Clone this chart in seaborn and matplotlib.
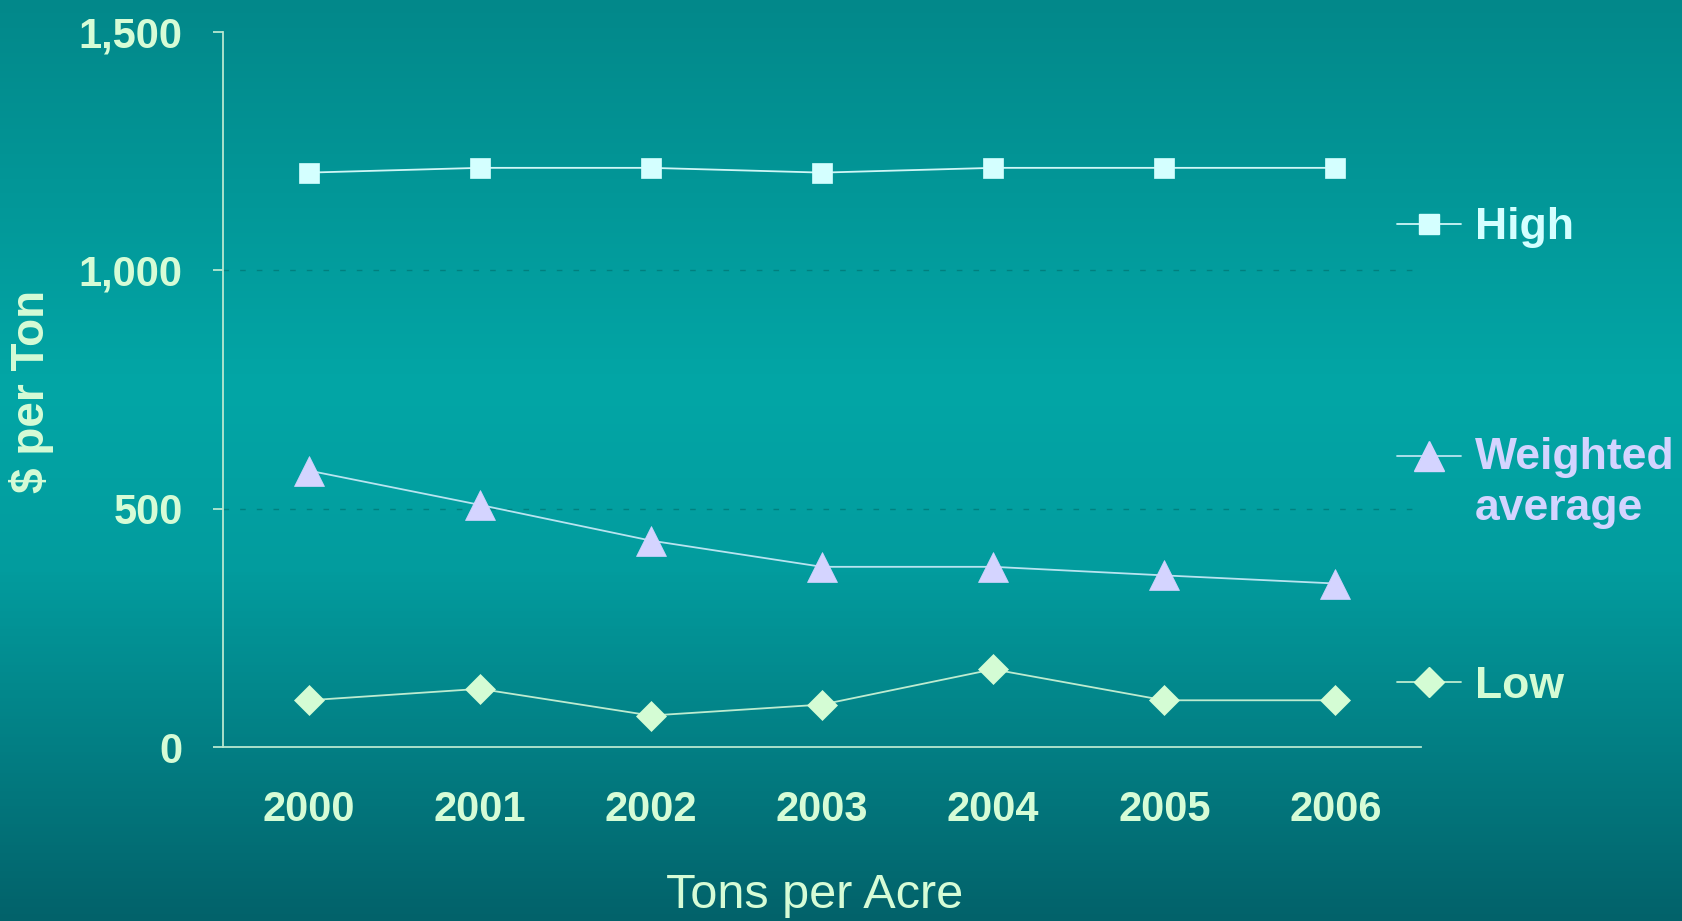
import numpy as np
import pandas as pd
import matplotlib
matplotlib.use("Agg")
import matplotlib.pyplot as plt
import seaborn as sns
from matplotlib.lines import Line2D
from matplotlib.colors import LinearSegmentedColormap

# ---- data ----
years = [2000, 2001, 2002, 2003, 2004, 2005, 2006]
high = [1205, 1215, 1215, 1205, 1215, 1215, 1215]
weighted = [580, 508, 433, 378, 378, 360, 343]
low = [98, 122, 66, 89, 163, 98, 98]
series_names = ["High", "Weighted\naverage", "Low"]
y_ticks = [0, 500, 1000, 1500]
y_tick_labels = ["0", "500", "1,000", "1,500"]

# ---- styles ----
text_green = "#D6FCD6"
col_high = "#D4FFFF"
col_weight = "#D4D4FF"
col_low = "#D4FCD4"
line_high = "#D0F6F6"
line_weight = "#B8E4F0"
line_low = "#BDEBD0"

sns.set_theme(style="white")
plt.rcParams["font.family"] = ["Liberation Sans", "DejaVu Sans"]

W, H = 1682, 921
fig = plt.figure(figsize=(W / 100, H / 100), dpi=100)

# background gradient
bg_ax = fig.add_axes([0, 0, 1, 1], zorder=-10)
cmap = LinearSegmentedColormap.from_list(
    "bg", [(0.0, "#02888A"), (0.42, "#02A6A6"), (0.62, "#029C9E"), (1.0, "#02626A")])
grad = np.linspace(0, 1, 256).reshape(-1, 1)
bg_ax.imshow(grad, aspect="auto", cmap=cmap, extent=[0, 1, 0, 1], origin="upper")
bg_ax.set_axis_off()

ax = fig.add_axes([223 / W, 1 - 747 / H, (1421 - 223) / W, (747 - 32) / H])
ax.set_facecolor("none")

df = pd.DataFrame({"year": years * 3,
                   "value": high + weighted + low,
                   "series": ["High"] * 7 + ["Weighted"] * 7 + ["Low"] * 7})

specs = [
    ("High", "s", 15, col_high, line_high),
    ("Weighted", "^", 21, col_weight, line_weight),
    ("Low", "D", 15, col_low, line_low),
]
for name, mk, ms, mc, lc in specs:
    sub = df[df["series"] == name]
    sns.lineplot(data=sub, x="year", y="value", ax=ax, color=lc, lw=1.3,
                 marker=mk, markersize=ms, markerfacecolor=mc,
                 markeredgecolor=mc, markeredgewidth=0.5, legend=False, zorder=3)

ax.set_xlim(1999.5, 2006.5)
ax.set_ylim(0, 1500)
ax.set_yticks(y_ticks)
ax.set_yticklabels(y_tick_labels)
ax.set_xticks(years)
ax.set_xticklabels([str(y) for y in years])

for yv in [500, 1000]:
    ax.axhline(yv, color="#01807F", lw=1.0, ls=(0, (4, 8)), zorder=1)

for s in ["top", "right"]:
    ax.spines[s].set_visible(False)
for s in ["left", "bottom"]:
    ax.spines[s].set_color("#B8E8D0")
    ax.spines[s].set_linewidth(1.3)

ax.tick_params(axis="y", which="major", left=True, length=7, width=1.3,
               color="#B8E8D0", pad=22, labelsize=30, labelcolor=text_green)
ax.tick_params(axis="x", which="major", bottom=False, length=0, pad=31,
               labelsize=30, labelcolor=text_green)
for lab in ax.get_yticklabels() + ax.get_xticklabels():
    lab.set_fontweight("bold")

ax.set_xlabel("")
ax.set_ylabel("")
fig.text(32 / W, 1 - 391 / H, "$ per Ton", rotation=90, ha="center", va="center",
         fontsize=33, fontweight="bold", color=text_green)
fig.text(815 / W, 1 - 895 / H, "Tons per Acre", ha="center", va="center",
         fontsize=35, color=text_green)

# legends (one per series, positioned as in the reference)
leg_specs = [
    (series_names[0], "s", 15, col_high, line_high, 1 - 228 / H, 0),
    (series_names[1], "^", 21, col_weight, line_weight, 1 - 483 / H, 20),
    (series_names[2], "D", 15, col_low, line_low, 1 - 686 / H, 0),
]
for lab, mk, ms, mc, lc, yy, shift in leg_specs:
    h = Line2D([], [], color=lc, lw=1.3, marker=mk, markersize=ms,
               markerfacecolor=mc, markeredgecolor=mc)
    leg = fig.legend(handles=[h], labels=[lab], loc="center left",
                     bbox_to_anchor=(1397 / W, yy), frameon=False, borderpad=0,
                     borderaxespad=0, handlelength=1.45, handletextpad=0.3,
                     prop={"size": 32, "weight": "bold"}, labelcolor=mc)
    for t in leg.get_texts():
        t.set_linespacing(1.3)
    if shift:
        for hh in leg.legend_handles:
            yd = np.asarray(hh.get_ydata(), dtype=float)
            hh.set_ydata(yd + shift)

fig.savefig("out.png", dpi=100)
